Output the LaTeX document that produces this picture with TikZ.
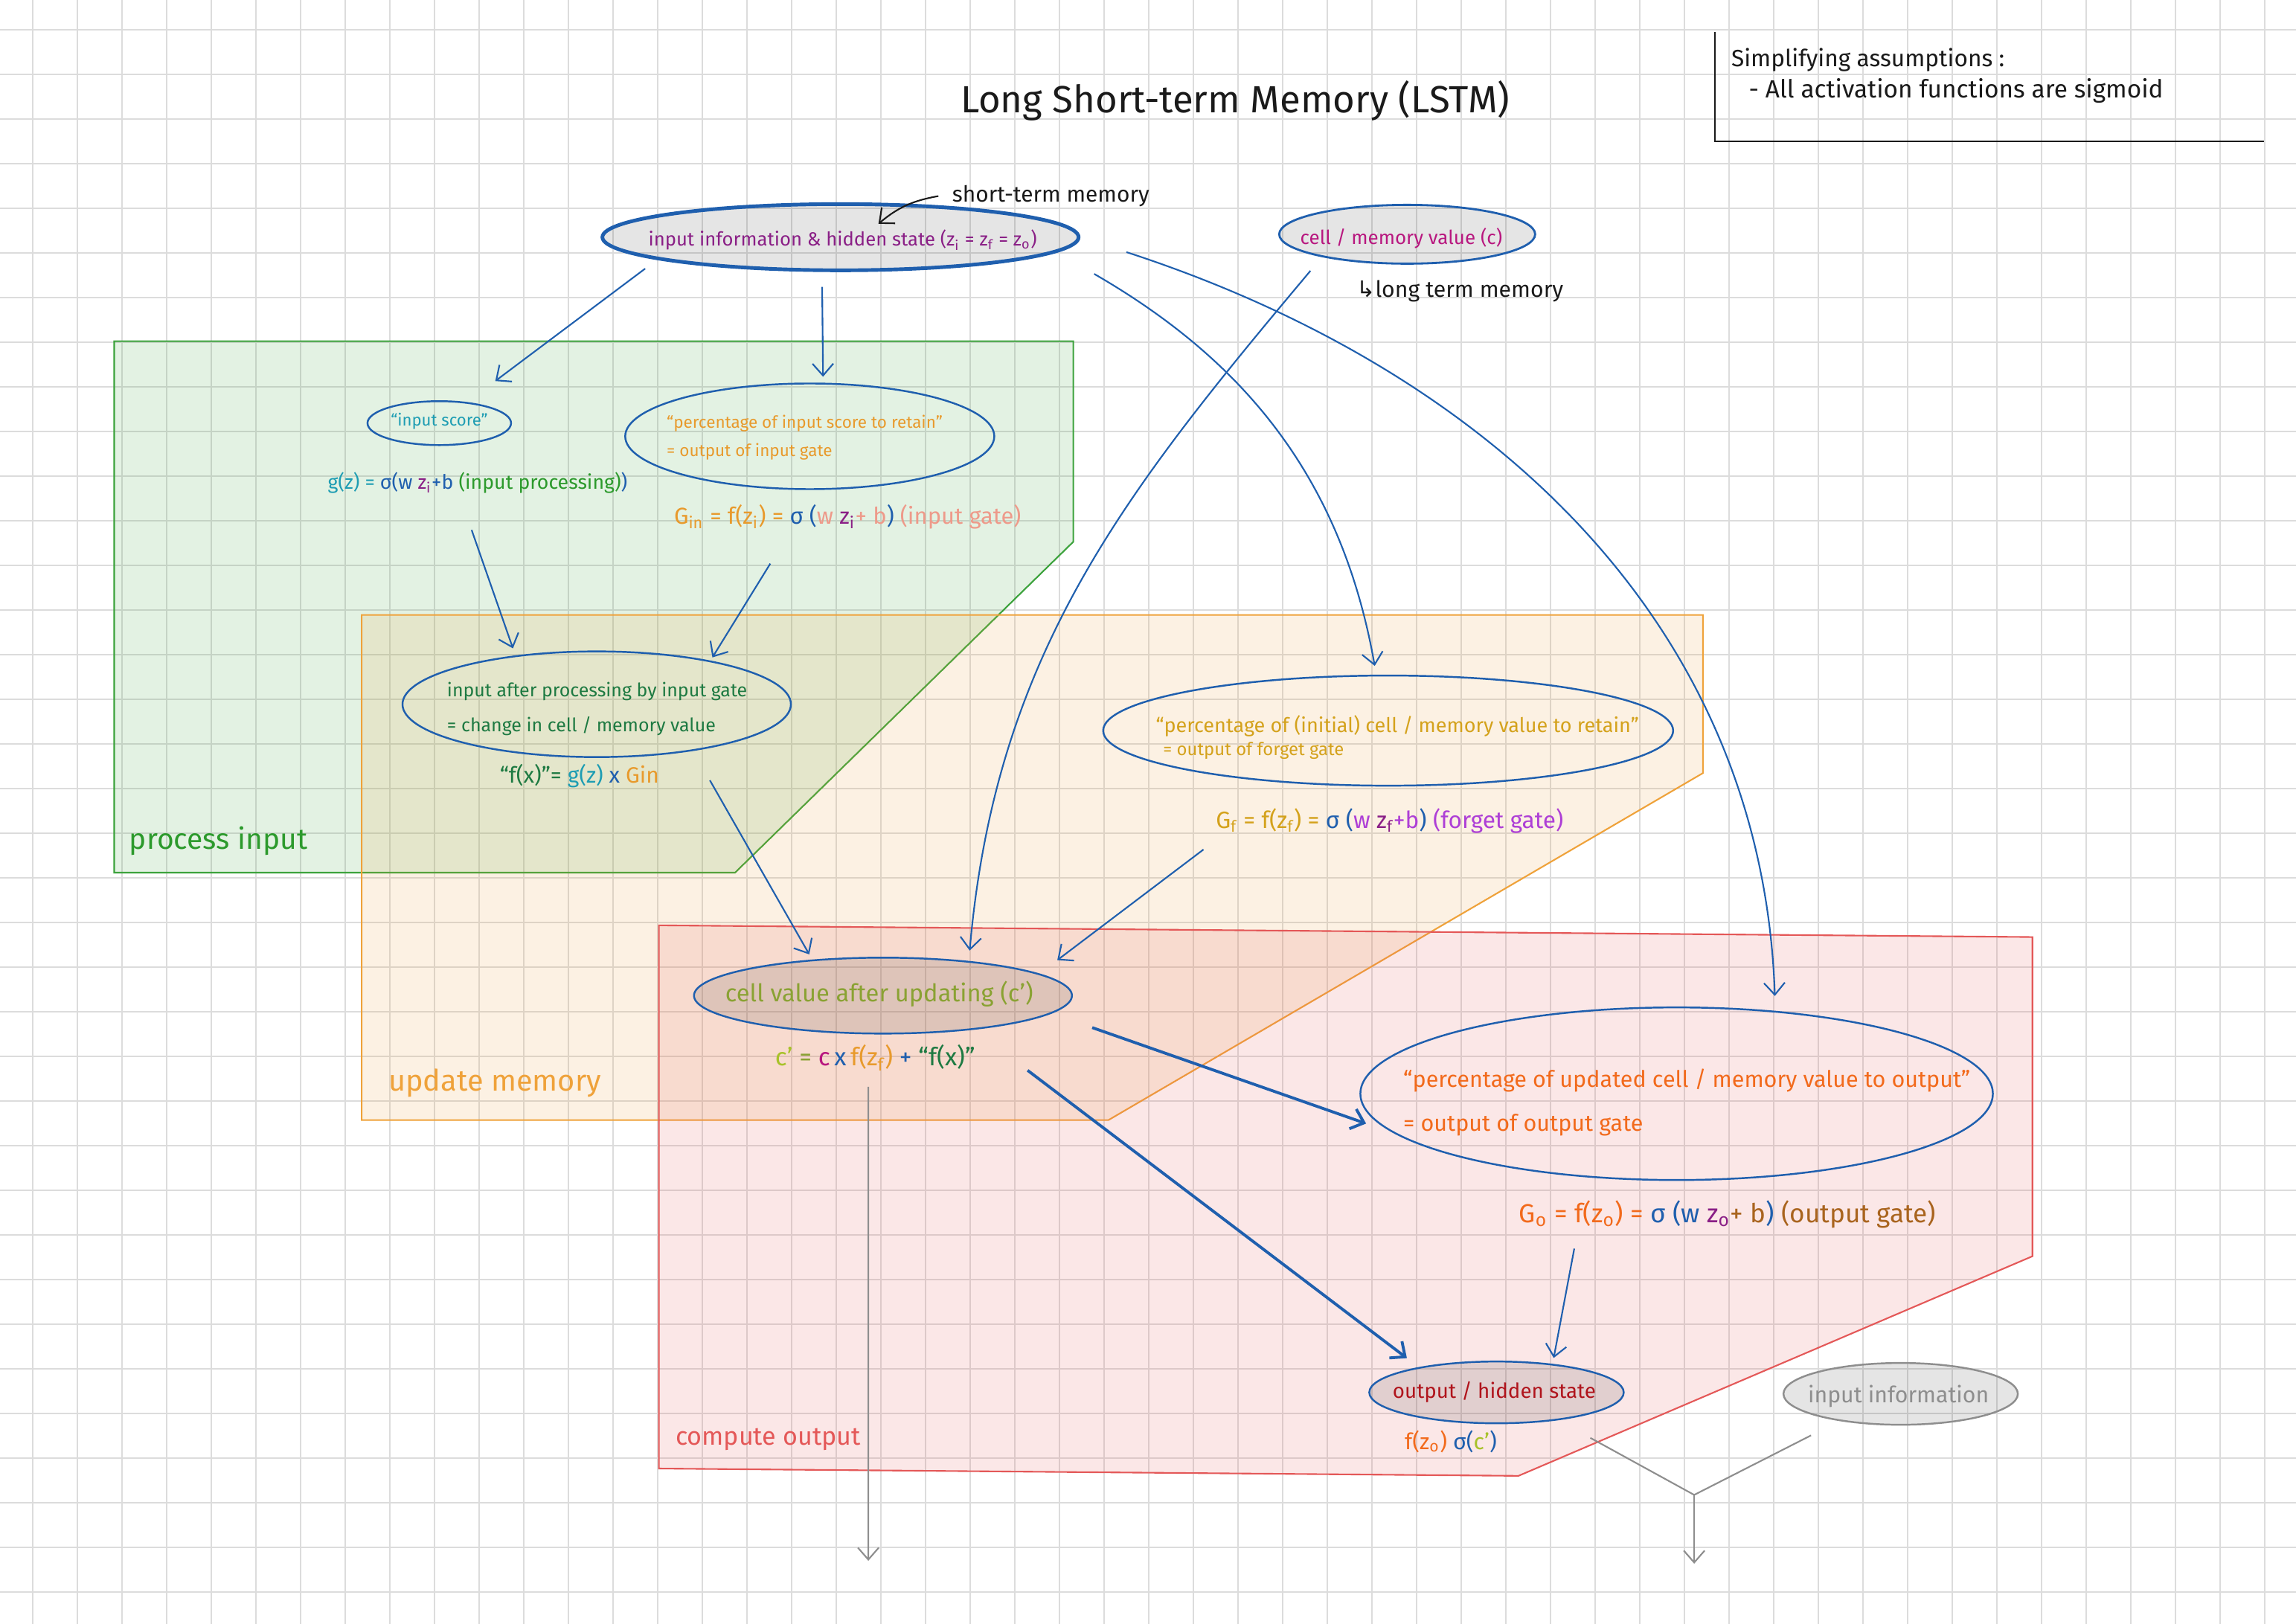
\documentclass[tikz,border=0pt]{standalone}
\usepackage{fontspec}
\setmainfont{Fira Sans}
\newfontfamily\arrowfont{DejaVu Sans}
\usetikzlibrary{arrows.meta,shapes.geometric}
\definecolor{lstmInk}{HTML}{1A1A1A}
\definecolor{lstmBlue}{HTML}{1F5FAE}
\definecolor{lstmPurple}{HTML}{8A1F86}
\definecolor{lstmMagenta}{HTML}{B8177F}
\definecolor{lstmTeal}{HTML}{1E9DB3}
\definecolor{lstmGreen}{HTML}{2C9A2C}
\definecolor{lstmDkGreen}{HTML}{1E7A42}
\definecolor{lstmAmber}{HTML}{E89A2C}
\definecolor{lstmSalmon}{HTML}{EE9A8A}
\definecolor{lstmGold}{HTML}{D4A21C}
\definecolor{lstmViolet}{HTML}{AE3FD6}
\definecolor{lstmOlive}{HTML}{8AA233}
\definecolor{lstmLime}{HTML}{A8C22A}
\definecolor{lstmOrange}{HTML}{F26A1C}
\definecolor{lstmBrown}{HTML}{A9641E}
\definecolor{lstmRed}{HTML}{B0141C}
\definecolor{lstmGrey}{HTML}{8E8E8E}
\definecolor{regionGreen}{HTML}{3DA33D}
\definecolor{regionOrange}{HTML}{EFA23A}
\definecolor{regionRed}{HTML}{E45858}
\definecolor{gridGray}{HTML}{DCDCDC}
\newcommand\fsz[1]{\fontsize{#1}{#1}\selectfont}
\tikzset{
  every picture/.style={text=lstmInk},
  grid line/.style={draw=gridGray, line width=0.5pt},
  lstm region/.style={draw=#1, fill=#1, fill opacity=0.14, line width=0.6pt},
  lstm ellipse/.style={ellipse, draw=lstmBlue, line width=0.7pt, inner sep=0pt},
  lstm state/.style={lstm ellipse, fill=black, fill opacity=0.1},
  lstm text/.style={text=#1, inner sep=0pt},
  lstm arrow/.style={-{Straight Barb[length=1.6mm,width=2.8mm]},
    draw=lstmBlue, line width=0.6pt},
  lstm thick/.style={lstm arrow, line width=1.1pt},
  grey line/.style={draw=lstmGrey, line width=0.6pt},
  grey arrow/.style={grey line, -{Straight Barb[length=1.6mm,width=2.8mm]}}
}

\begin{document}
\begin{tikzpicture}[x=0.1968mm,y=-0.1968mm]
  \useasboundingbox (0,0) rectangle (1568,1109);
  \fill[white] (0,0) rectangle (1568,1109);
  % grid paper
  \foreach \k in {0,...,50} \draw[grid line] ({22.2+30.49*\k},0) -- ++(0,1109);
  \foreach \k in {0,...,35} \draw[grid line] (0,{20.3+30.49*\k}) -- ++(1568,0);

  % stages
  \draw[lstm region=regionGreen] (78,233) -- (733,233) -- (733,370) -- (502,596) -- (78,596) -- cycle;
  \draw[lstm region=regionOrange] (247,420) -- (1163,420) -- (1163,528) -- (757,765) -- (247,765) -- cycle;
  \draw[lstm region=regionRed] (450,632) -- (1388,640) -- (1388,858) -- (1037,1008) -- (450,1003) -- cycle;
  \node[lstm text=lstmGreen, font=\fsz{11.1}, anchor=base west] (procLbl) at (88,580) {process input};
  \node[lstm text=regionOrange, font=\fsz{11.3}, anchor=base west] (updLbl) at (265,745) {update memory};
  \node[lstm text=regionRed, font=\fsz{9.7}, anchor=base west] (outLbl) at (461,987) {compute output};

  % title and note
  \node[lstm text=lstmInk, font=\fsz{14.5}, anchor=base] (title) at (843.5,77) {Long Short-term Memory (LSTM)};
  \node[lstm text=lstmInk, font=\fsz{9}, anchor=base west] (assume) at (1182,45.7) {Simplifying assumptions :};
  \node[lstm text=lstmInk, font=\fsz{9.5}, anchor=base west] (assumeItem) at (1194,67) {- All activation functions are sigmoid};
  \draw[lstmInk, line width=0.6pt] (1171,22) -- (1171,96.5) -- (1546,96.5);

  % inputs
  \node[lstm state, line width=1.4pt, minimum width=6.40cm, minimum height=0.89cm] (hid) at (574,162) {};
  \node[lstm text=lstmPurple, font=\fsz{7.3}, anchor=base] (hidTxt) at (575.5,168)
    {input information \& hidden state (z\textsubscript{i} = z\textsubscript{f} = z\textsubscript{o})};
  \node[lstm state, line width=0.8pt, minimum width=3.44cm, minimum height=0.79cm] (cell) at (961,160) {};
  \node[lstm text=lstmMagenta, font=\fsz{7.4}, anchor=base] (cellTxt) at (957,167) {cell / memory value (c)};
  \node[lstm text=lstmInk, font=\fsz{8.5}, anchor=base west] (stm) at (650,138) {short-term memory};
  \node[lstm text=lstmInk, font=\fsz{8.6}, anchor=base west] (ltm) at (926,203) {{\arrowfont ↳}long term memory};

  % process input
  \node[lstm ellipse, minimum width=1.93cm, minimum height=0.59cm] (isc) at (300,289) {};
  \node[lstm text=lstmTeal, font=\fsz{6.3}, anchor=base] (iscTxt) at (300,291) {“input score”};
  \node[lstm text=lstmTeal, font=\fsz{7.6}, anchor=base west] (gz) at (223.5,334)
    {g(z) = \textcolor{lstmBlue}{σ(w }\textcolor{lstmPurple}{z\textsubscript{i}}\textcolor{lstmBlue}{ +b }\textcolor{lstmGreen}{(input processing)}\textcolor{lstmBlue}{)}};
  \node[lstm ellipse, minimum width=4.96cm, minimum height=1.42cm] (pin) at (553,298) {};
  \node[lstm text=lstmAmber, font=\fontsize{6.4}{10.9}\selectfont, align=left, anchor=west] (pinTxt) at (455,299)
    {“percentage of input score to retain”\\= output of input gate};
  \node[lstm text=lstmAmber, font=\fsz{8.8}, anchor=base west] (Gin) at (460,358)
    {G\textsubscript{in} = f(z\textsubscript{i}) = \textcolor{lstmBlue}{σ (}\textcolor{lstmSalmon}{w }\textcolor{lstmPurple}{z\textsubscript{i}}\textcolor{lstmSalmon}{ + b}\textcolor{lstmBlue}{)} \textcolor{lstmSalmon}{(input gate)}};
  \node[lstm ellipse, minimum width=5.22cm, minimum height=1.42cm] (iap) at (407.5,481) {};
  \node[lstm text=lstmDkGreen, font=\fontsize{7.1}{13.4}\selectfont, align=left, anchor=west] (iapTxt) at (305,484)
    {input after processing by input gate\\= change in cell / memory value};
  \node[lstm text=lstmDkGreen, font=\fsz{8.5}, anchor=base west] (fx) at (341,535)
    {“f(x)”= \textcolor{lstmTeal}{g(z)} \textcolor{lstmBlue}{x} \textcolor{lstmAmber}{Gin}};

  % update memory
  \node[lstm ellipse, minimum width=7.66cm, minimum height=1.48cm] (pfg) at (948,499) {};
  \node[lstm text=lstmGold, font=\fsz{7.7}, anchor=base west] (pfgTxt) at (789,500)
    {“percentage of (initial) cell / memory value to retain”};
  \node[lstm text=lstmGold, font=\fsz{6.8}, anchor=base west] (pfgSub) at (794,516) {= output of forget gate};
  \node[lstm text=lstmGold, font=\fsz{9}, anchor=base west] (Gf) at (830,566)
    {G\textsubscript{f} = f(z\textsubscript{f}) = \textcolor{lstmBlue}{σ (}\textcolor{lstmViolet}{w }\textcolor{lstmPurple}{z\textsubscript{f}}\textcolor{lstmViolet}{+b}\textcolor{lstmBlue}{)} \textcolor{lstmViolet}{(forget gate)}};

  % compute output
  \node[lstm state, minimum width=5.08cm, minimum height=1.02cm] (cup) at (603,680) {};
  \node[lstm text=lstmOlive, font=\fsz{9.3}, anchor=base west] (cupTxt) at (495,684) {cell value after updating (c')};
  \node[lstm text=lstmOlive, font=\fsz{9.5}, anchor=base west] (cprime) at (529,728)
    {\textcolor{lstmLime}{c'} = \textcolor{lstmMagenta}{c}\,\textcolor{lstmBlue}{x}\,\textcolor{lstmAmber}{f(z\textsubscript{f})} \textcolor{lstmBlue}{+} \textcolor{lstmDkGreen}{“f(x)”}};
  \node[lstm ellipse, minimum width=8.50cm, minimum height=2.32cm] (pout) at (1145,747) {};
  \node[lstm text=lstmOrange, font=\fontsize{8.7}{16.8}\selectfont, align=left, anchor=west] (poutTxt) at (958,753)
    {“percentage of updated cell / memory value to output”\\= output of output gate};
  \node[lstm text=lstmOrange, font=\fsz{10}, anchor=base west] (Go) at (1037,835)
    {G\textsubscript{o} = f(z\textsubscript{o}) = \textcolor{lstmBlue}{σ (w }\textcolor{lstmPurple}{z\textsubscript{o}}\textcolor{lstmBrown}{ + b}\textcolor{lstmBlue}{)} \textcolor{lstmBrown}{(output gate)}};
  \node[lstm state, minimum width=3.42cm, minimum height=0.83cm] (ohs) at (1022,951) {};
  \node[lstm text=lstmRed, font=\fsz{7.9}, anchor=base] (ohsTxt) at (1020.5,955) {output / hidden state};
  \node[lstm text=lstmOrange, font=\fsz{8.6}, anchor=base west] (fo) at (959,990)
    {f(z\textsubscript{o}) \textcolor{lstmBlue}{σ(}\textcolor{lstmLime}{c'}\textcolor{lstmBlue}{)}};
  \node[ellipse, draw=lstmGrey, line width=0.7pt, fill=black, fill opacity=0.1, inner sep=0pt,
    minimum width=3.15cm, minimum height=0.83cm] (inf) at (1298,952) {};
  \node[lstm text=lstmGrey, font=\fsz{8.6}, anchor=base] (infTxt) at (1296.5,958) {input information};

  % connectors
  \draw[lstmInk, line width=0.6pt, -{Straight Barb[length=1.6mm,width=2.8mm]}]
    ([xshift=-1.8mm,yshift=0.8mm]stm.base west) to[out=190,in=40] ([xshift=5.1mm,yshift=1.8mm]hid.center);
  \draw[lstm arrow, shorten <=2mm, shorten >=4.7mm] (hid.187) -- (isc.37);
  \draw[lstm arrow, shorten <=2mm, shorten >=0.8mm] (hid.242) -- (pin.76);
  \draw[lstm arrow, shorten <=5.8mm, shorten >=1.2mm] (hid.-4) to[out=-30,in=100] (pfg.102);
  \draw[lstm arrow, shorten <=6.5mm, shorten >=2mm] (hid.east) to[out=-18,in=92] (pout.40);
  \draw[lstm arrow, shorten <=2.4mm, shorten >=1.4mm] (cell.195) to[out=-130,in=85] (cup.22);
  \draw[lstm arrow, shorten >=1mm] ([xshift=19.4mm,yshift=-5.5mm]gz.base west) -- (iap.149);
  \draw[lstm arrow, shorten >=0.5mm] ([xshift=13mm,yshift=-5.3mm]Gin.base west) -- (iap.21);
  \draw[lstm arrow, shorten >=0.8mm] ([xshift=28.3mm,yshift=0.4mm]fx.base west) -- (cup.153);
  \draw[lstm arrow, shorten >=3mm] ([xshift=-1.6mm,yshift=-2.8mm]Gf.base west) -- (cup.8);
  \draw[lstm thick, shorten >=4mm] ([xshift=2.6mm,yshift=-4.3mm]cup.east) -- (pout.188);
  \draw[lstm thick, shorten >=2mm] ([xshift=34mm,yshift=-0.6mm]cprime.base west) -- (ohs.162);
  \draw[lstm arrow, shorten >=0.8mm] ([xshift=7.5mm,yshift=-3.5mm]Go.base west) -- (ohs.27);

  % outputs
  \coordinate (cellOut) at (593,1066);
  \coordinate (merge) at (1157,1021);
  \coordinate (hiddenOut) at (1157,1068);
  \draw[grey arrow] ([xshift=12.6mm,yshift=-2.8mm]cprime.base west) -- (cellOut);
  \draw[grey line] ([yshift=-3.2mm]ohs.-13) -- (merge);
  \draw[grey line] ([yshift=-2.8mm]inf.193) -- (merge);
  \draw[grey arrow] (merge) -- (hiddenOut);
\end{tikzpicture}
\end{document}
